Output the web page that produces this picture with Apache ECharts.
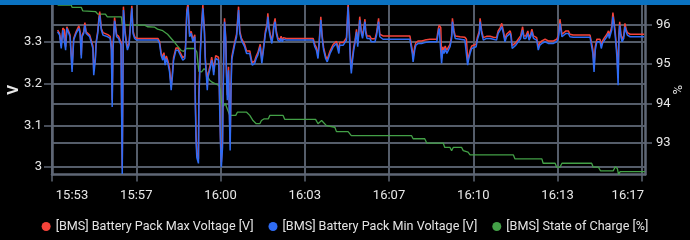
<!DOCTYPE html>
<html>
<head>
<meta charset="utf-8">
<script src="https://cdn.jsdelivr.net/npm/echarts@6/dist/echarts.min.js"></script>
<style>
html,body{margin:0;padding:0;background:#000;}
#c{width:690px;height:240px;}
</style>
</head>
<body>
<div id="c"></div>
<script>
// time in seconds from the first tick (ticks every 210 s)
const xTickLabels = ['15:53','15:57','16:00','16:03','16:07','16:10','16:13','16:17'];
const vTickLabels = [3, 3.1, 3.2, 3.3];
const socTickLabels = [93, 94, 95, 96];
const seriesNames = ['[BMS] Battery Pack Max Voltage [V]','[BMS] Battery Pack Min Voltage [V]','[BMS] State of Charge [%]'];

const minVoltage = [
[14,3.324],[19,3.316],[23,3.284],[27,3.328],[31,3.324],[34,3.280],[37,3.332],[42,3.320],[45,3.312],[50,3.228],
[54,3.304],[57,3.300],[60,3.320],[64,3.324],[67,3.332],[70,3.320],[73,3.260],[75,3.312],[79,3.320],[82,3.340],
[85,3.320],[89,3.316],[94,3.312],[98,3.316],[102,3.284],[104,3.220],[108,3.256],[110,3.296],[114,3.320],[117,3.352],
[119,3.364],[123,3.328],[127,3.316],[131,3.320],[139,3.312],[145,3.308],[148,3.280],[150,3.144],[152,3.280],[156,3.350],
[161,3.312],[166,3.308],[170,3.304],[172,3.292],[175,2.984],[178,3.376],[182,3.320],[185,3.296],[188,3.280],[192,3.292],
[195,3.296],[199,3.380],[202,3.320],[206,3.308],[211,3.304],[243,3.304],[264,3.304],[268,3.296],[272,3.268],[276,3.256],
[279,3.268],[282,3.244],[285,3.260],[289,3.248],[293,3.228],[297,3.184],[300,3.216],[303,3.256],[309,3.280],[314,3.280],
[318,3.272],[322,3.268],[326,3.256],[331,3.260],[333,3.288],[336,3.368],[339,3.384],[343,3.312],[347,3.320],[351,3.300],
[356,3.312],[357,3.160],[359,3.064],[361,3.023],[365,3.009],[366,3.160],[370,3.280],[373,3.336],[376,3.380],[380,3.320],
[382,3.256],[385,3.216],[387,3.184],[389,3.216],[391,3.224],[395,3.240],[398,3.256],[401,3.240],[403,3.220],[405,3.240],
[408,3.260],[411,3.264],[415,3.256],[416,3.240],[418,3.136],[420,3.056],[422,3.000],[425,3.048],[426,3.136],[428,3.264],
[430,3.348],[433,3.304],[435,3.216],[437,3.160],[440,3.232],[441,3.176],[444,3.040],[446,3.176],[448,3.256],[451,3.272],
[456,3.296],[460,3.312],[465,3.376],[468,3.320],[472,3.304],[476,3.300],[480,3.288],[485,3.272],[488,3.276],[493,3.272],
[497,3.252],[499,3.244],[503,3.240],[505,3.248],[509,3.260],[513,3.268],[516,3.272],[519,3.288],[523,3.248],[526,3.272],
[530,3.304],[532,3.320],[536,3.336],[538,3.360],[541,3.328],[544,3.312],[548,3.296],[551,3.316],[553,3.336],[556,3.348],
[559,3.320],[563,3.304],[568,3.300],[571,3.308],[574,3.300],[577,3.306],[584,3.304],[651,3.304],[655,3.288],[659,3.280],
[663,3.260],[666,3.296],[670,3.352],[673,3.312],[677,3.280],[682,3.260],[686,3.252],[689,3.256],[693,3.272],[697,3.280],
[701,3.288],[705,3.292],[709,3.296],[713,3.296],[715,3.272],[717,3.292],[721,3.296],[726,3.292],[730,3.296],[734,3.304],
[738,3.384],[741,3.320],[744,3.248],[746,3.224],[749,3.256],[752,3.280],[755,3.296],[759,3.324],[762,3.288],[764,3.312],
[767,3.352],[771,3.320],[774,3.308],[777,3.328],[780,3.348],[782,3.320],[785,3.308],[789,3.304],[792,3.308],[796,3.300],
[800,3.304],[805,3.300],[809,3.316],[814,3.348],[817,3.312],[825,3.306],[892,3.306],[894,3.302],[898,3.272],[900,3.252],
[904,3.280],[907,3.292],[913,3.296],[921,3.296],[929,3.298],[942,3.300],[959,3.300],[963,3.324],[965,3.332],[969,3.328],
[971,3.248],[974,3.280],[977,3.272],[980,3.284],[984,3.272],[988,3.280],[992,3.288],[996,3.308],[998,3.348],[1002,3.320],
[1005,3.308],[1017,3.306],[1029,3.304],[1033,3.300],[1036,3.244],[1038,3.256],[1042,3.272],[1046,3.284],[1050,3.288],[1057,3.288],
[1060,3.304],[1065,3.320],[1067,3.348],[1071,3.320],[1075,3.304],[1079,3.304],[1083,3.308],[1087,3.312],[1092,3.308],[1100,3.306],
[1108,3.304],[1112,3.320],[1117,3.328],[1121,3.336],[1125,3.320],[1129,3.300],[1133,3.312],[1137,3.308],[1142,3.320],[1144,3.312],
[1147,3.284],[1151,3.288],[1156,3.292],[1162,3.300],[1168,3.308],[1173,3.328],[1176,3.308],[1181,3.308],[1186,3.320],[1189,3.304],
[1193,3.312],[1196,3.324],[1200,3.308],[1204,3.312],[1208,3.304],[1212,3.280],[1216,3.292],[1221,3.296],[1225,3.300],[1229,3.300],
[1233,3.304],[1237,3.296],[1241,3.292],[1250,3.296],[1254,3.300],[1258,3.300],[1262,3.308],[1266,3.344],[1271,3.312],[1275,3.316],
[1281,3.320],[1287,3.320],[1291,3.312],[1299,3.311],[1316,3.311],[1341,3.311],[1345,3.308],[1348,3.272],[1351,3.228],[1354,3.280],
[1358,3.300],[1362,3.304],[1366,3.300],[1369,3.284],[1372,3.296],[1377,3.304],[1383,3.312],[1387,3.320],[1389,3.308],[1395,3.328],
[1398,3.360],[1401,3.340],[1404,3.312],[1408,3.264],[1411,3.196],[1413,3.312],[1415,3.340],[1418,3.312],[1421,3.300],[1425,3.308],
[1428,3.336],[1431,3.324],[1434,3.316],[1441,3.312],[1458,3.312],[1476,3.312]
];

const maxVoltage = [
[14,3.328],[19,3.320],[23,3.290],[27,3.333],[31,3.328],[34,3.288],[37,3.336],[42,3.324],[45,3.316],[50,3.236],
[54,3.308],[57,3.305],[60,3.324],[64,3.328],[67,3.338],[70,3.324],[73,3.268],[75,3.316],[79,3.324],[82,3.346],
[85,3.324],[89,3.320],[94,3.316],[98,3.320],[102,3.290],[104,3.232],[108,3.262],[110,3.300],[114,3.325],[117,3.358],
[119,3.372],[123,3.332],[127,3.322],[131,3.325],[139,3.317],[145,3.313],[148,3.290],[150,3.160],[152,3.290],[156,3.358],
[161,3.317],[166,3.313],[170,3.309],[172,3.298],[175,2.996],[178,3.384],[182,3.326],[185,3.302],[188,3.286],[192,3.298],
[195,3.302],[199,3.386],[202,3.325],[206,3.312],[211,3.308],[243,3.308],[264,3.308],[268,3.301],[272,3.274],[276,3.262],
[279,3.274],[282,3.250],[285,3.266],[289,3.254],[293,3.236],[297,3.194],[300,3.224],[303,3.262],[309,3.285],[314,3.285],
[318,3.277],[322,3.273],[326,3.262],[331,3.266],[333,3.294],[336,3.376],[339,3.392],[343,3.318],[347,3.325],[351,3.306],
[356,3.317],[357,3.180],[359,3.080],[361,3.036],[365,3.020],[366,3.176],[370,3.288],[373,3.344],[376,3.388],[380,3.326],
[382,3.264],[385,3.224],[387,3.194],[389,3.224],[391,3.231],[395,3.247],[398,3.263],[401,3.247],[403,3.228],[405,3.247],
[408,3.267],[411,3.271],[415,3.263],[416,3.248],[418,3.150],[420,3.070],[422,3.012],[425,3.062],[426,3.150],[428,3.272],
[430,3.356],[433,3.310],[435,3.226],[437,3.172],[440,3.240],[441,3.188],[444,3.056],[446,3.188],[448,3.264],[451,3.278],
[456,3.302],[460,3.318],[465,3.384],[468,3.326],[472,3.309],[476,3.305],[480,3.294],[485,3.278],[488,3.282],[493,3.278],
[497,3.258],[499,3.250],[503,3.246],[505,3.254],[509,3.266],[513,3.274],[516,3.278],[519,3.294],[523,3.256],[526,3.278],
[530,3.310],[532,3.326],[536,3.342],[538,3.368],[541,3.334],[544,3.318],[548,3.302],[551,3.322],[553,3.342],[556,3.356],
[559,3.326],[563,3.309],[568,3.305],[571,3.313],[574,3.305],[577,3.310],[584,3.308],[651,3.308],[655,3.294],[659,3.286],
[663,3.268],[666,3.302],[670,3.360],[673,3.318],[677,3.286],[682,3.266],[686,3.258],[689,3.262],[693,3.278],[697,3.286],
[701,3.294],[705,3.298],[709,3.301],[713,3.301],[715,3.280],[717,3.298],[721,3.301],[726,3.298],[730,3.301],[734,3.310],
[738,3.394],[741,3.328],[744,3.258],[746,3.234],[749,3.264],[752,3.287],[755,3.302],[759,3.330],[762,3.295],[764,3.318],
[767,3.360],[771,3.326],[774,3.314],[777,3.334],[780,3.354],[782,3.326],[785,3.314],[789,3.310],[792,3.314],[796,3.307],
[800,3.310],[805,3.307],[809,3.322],[814,3.356],[817,3.318],[825,3.314],[892,3.314],[894,3.310],[898,3.280],[900,3.262],
[904,3.288],[907,3.298],[913,3.302],[921,3.302],[929,3.304],[942,3.306],[959,3.306],[963,3.332],[965,3.340],[969,3.334],
[971,3.260],[974,3.288],[977,3.280],[980,3.290],[984,3.280],[988,3.287],[992,3.294],[996,3.314],[998,3.356],[1002,3.326],
[1005,3.314],[1017,3.312],[1029,3.311],[1033,3.306],[1036,3.256],[1038,3.264],[1042,3.279],[1046,3.290],[1050,3.294],[1057,3.294],
[1060,3.310],[1065,3.326],[1067,3.356],[1071,3.326],[1075,3.310],[1079,3.310],[1083,3.313],[1087,3.317],[1092,3.313],[1100,3.311],
[1108,3.310],[1112,3.326],[1117,3.334],[1121,3.344],[1125,3.326],[1129,3.306],[1133,3.318],[1137,3.314],[1142,3.326],[1144,3.318],
[1147,3.291],[1151,3.294],[1156,3.298],[1162,3.306],[1168,3.314],[1173,3.336],[1176,3.314],[1181,3.314],[1186,3.326],[1189,3.310],
[1193,3.318],[1196,3.330],[1200,3.314],[1204,3.318],[1208,3.310],[1212,3.288],[1216,3.298],[1221,3.302],[1225,3.306],[1229,3.306],
[1233,3.310],[1237,3.302],[1241,3.298],[1250,3.302],[1254,3.306],[1258,3.306],[1262,3.314],[1266,3.354],[1271,3.318],[1275,3.322],
[1281,3.326],[1287,3.326],[1291,3.318],[1299,3.316],[1316,3.316],[1341,3.316],[1345,3.314],[1348,3.282],[1351,3.240],[1354,3.288],
[1358,3.306],[1362,3.310],[1366,3.306],[1369,3.291],[1372,3.302],[1377,3.310],[1383,3.318],[1387,3.326],[1389,3.314],[1395,3.336],
[1398,3.370],[1401,3.348],[1404,3.320],[1408,3.276],[1411,3.214],[1413,3.320],[1415,3.348],[1418,3.318],[1421,3.306],[1425,3.314],
[1428,3.344],[1431,3.330],[1434,3.322],[1441,3.318],[1458,3.318],[1476,3.318]
];

const stateOfCharge = [
[14,96.49],[48,96.49],[50,96.43],[73,96.43],[77,96.34],[109,96.32],[114,96.26],[133,96.26],[138,96.19],[173,96.19],
[175,95.99],[231,95.98],[238,95.94],[256,95.93],[263,95.88],[276,95.84],[288,95.75],[301,95.60],[313,95.45],[322,95.34],
[328,95.32],[335,95.39],[356,95.39],[361,95.30],[366,94.81],[373,94.80],[379,94.88],[384,94.84],[388,94.67],[393,94.59],
[399,94.54],[407,94.50],[416,94.46],[420,94.33],[422,94.08],[425,93.91],[428,93.91],[432,94.00],[435,93.91],[439,93.91],
[443,93.70],[458,93.70],[462,93.78],[485,93.78],[493,93.70],[501,93.57],[509,93.49],[518,93.49],[522,93.57],[528,93.61],
[539,93.61],[543,93.70],[576,93.70],[580,93.60],[657,93.60],[663,93.49],[667,93.49],[672,93.57],[676,93.57],[684,93.44],
[705,93.40],[709,93.29],[730,93.29],[734,93.24],[738,93.29],[742,93.24],[746,93.19],[896,93.19],[900,93.11],[929,93.11],
[934,93.00],[975,93.00],[979,92.89],[992,92.89],[996,92.81],[1000,92.89],[1021,92.89],[1025,92.81],[1037,92.77],[1042,92.70],
[1150,92.70],[1154,92.60],[1221,92.60],[1224,92.49],[1254,92.49],[1258,92.39],[1266,92.39],[1271,92.49],[1345,92.49],[1349,92.39],
[1362,92.39],[1367,92.30],[1399,92.30],[1404,92.40],[1409,92.36],[1412,92.21],[1416,92.28],[1478,92.28]
];

const X_STEP = 210, X_MAX = 1478;
const xTicks = xTickLabels.map((_, i) => i * X_STEP);

const gridColor = '#555d6a';
const axisColor = '#5f6776';
const labelColor = '#e8e8e8';
const FONT = 'Roboto';

const chart = echarts.init(document.getElementById('c'), null, {renderer: 'canvas'});
chart.setOption({
  backgroundColor: '#000',
  animation: false,
  textStyle: {fontFamily: FONT},
  graphic: [{
    type: 'rect', z: 100, silent: true,
    shape: {x: 0, y: 0, width: 690, height: 5},
    style: {fill: '#0a72c1'}
  }],
  legend: {
    data: seriesNames,
    left: 'center',
    top: 215,
    icon: 'circle',
    itemWidth: 9, itemHeight: 9,
    itemGap: 15,
    textStyle: {color: '#e4e4e4', fontSize: 12.6, fontFamily: FONT}
  },
  grid: {left: 52, right: 45, top: 5, bottom: 65.5, containLabel: false, outerBoundsMode: 'none'},
  xAxis: {
    type: 'value', min: 0, max: X_MAX, interval: X_STEP,
    axisLine: {show: true, lineStyle: {color: axisColor, width: 2.5}},
    axisTick: {show: true, length: 7, lineStyle: {color: axisColor, width: 1.5}, customValues: xTicks},
    splitLine: {show: true, lineStyle: {color: gridColor, width: 2}},
    axisLabel: {
      customValues: xTicks,
      color: labelColor, fontSize: 13, fontFamily: FONT, margin: 15,
      formatter: function (v) {
        const i = Math.round(v / X_STEP);
        const s = xTickLabels[i] || '';
        if (i === 0) return '{first|' + s + '}';
        if (i === xTickLabels.length - 1) return '{last|' + s + '}';
        return s;
      },
      rich: {
        first: {padding: [0, 0, 0, 40], color: labelColor, fontSize: 13, fontFamily: FONT},
        last: {padding: [0, 28, 0, 0], color: labelColor, fontSize: 13, fontFamily: FONT}
      }
    }
  },
  yAxis: [{
    type: 'value', min: 2.9825, max: 3.388, position: 'left',
    name: 'V', nameLocation: 'middle', nameGap: 30, nameMoveOverlap: false,
    nameTextStyle: {color: labelColor, fontSize: 15, fontFamily: FONT, fontWeight: 'bold'},
    axisLine: {show: true, lineStyle: {color: axisColor, width: 2.5}},
    axisTick: {show: true, length: 8, lineStyle: {color: axisColor, width: 1.5}, customValues: vTickLabels},
    splitLine: {show: true, lineStyle: {color: gridColor, width: 2}},
    axisLabel: {
      customValues: vTickLabels,
      color: labelColor, fontSize: 13, fontFamily: FONT, margin: 10,
      formatter: function (v) { return String(Math.round(v * 10) / 10); }
    }
  }, {
    type: 'value', min: 92.206, max: 96.49, position: 'right',
    name: '%', nameLocation: 'middle', nameGap: 27, nameMoveOverlap: false,
    nameTextStyle: {color: labelColor, fontSize: 13, fontFamily: FONT},
    axisLine: {show: true, lineStyle: {color: axisColor, width: 2.5}},
    axisTick: {show: true, length: 7, lineStyle: {color: axisColor, width: 1.5}, customValues: socTickLabels},
    splitLine: {show: true, lineStyle: {color: gridColor, width: 2}},
    axisLabel: {
      customValues: socTickLabels,
      color: labelColor, fontSize: 13, fontFamily: FONT, margin: 11,
      formatter: function (v) { return String(Math.round(v)); }
    }
  }],
  series: [{
    name: seriesNames[2], type: 'line', yAxisIndex: 1, data: stateOfCharge,
    showSymbol: false, color: '#43a047', lineStyle: {width: 1.3}, z: 2
  }, {
    name: seriesNames[0], type: 'line', yAxisIndex: 0, data: maxVoltage,
    showSymbol: false, color: '#f4433a', lineStyle: {width: 1.5}, z: 3
  }, {
    name: seriesNames[1], type: 'line', yAxisIndex: 0, data: minVoltage,
    showSymbol: false, color: '#2f6cf4', lineStyle: {width: 1.5}, z: 4
  }]
});
</script>
</body>
</html>
